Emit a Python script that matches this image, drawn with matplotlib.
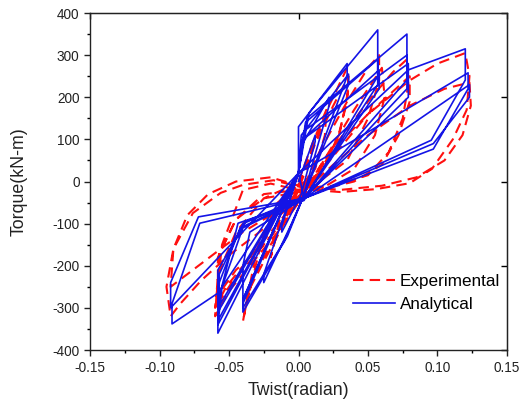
import matplotlib
matplotlib.use("Agg")
import matplotlib.pyplot as plt
from matplotlib.ticker import MultipleLocator

plt.rcParams['font.family'] = ['Liberation Sans', 'DejaVu Sans']
plt.rcParams['axes.unicode_minus'] = False

# ---- Experimental (red dashed), continuous path of twist (rad) and torque (kN-m)
exp_twist = [
    0.0, 0.01, 0.02, 0.019, 0.012, 0.0, -0.012, -0.02, -0.016, -0.006, 0.0,
    0.01, 0.022, 0.035, 0.036, 0.03, 0.018, 0.005, -0.01, -0.025, -0.038, -0.033, -0.02, -0.008, 0.0,
    0.012, 0.025, 0.036, 0.035, 0.028, 0.015, 0.0, -0.015, -0.03, -0.04, -0.036, -0.025, -0.012, 0.0,
    0.015, 0.035, 0.05, 0.058, 0.058, 0.05, 0.035, 0.015, -0.005, -0.025, -0.045, -0.058, -0.06, -0.05, -0.035, -0.015, 0.0,
    0.02, 0.04, 0.06, 0.062, 0.055, 0.04, 0.02, 0.0, -0.025, -0.045, -0.058, -0.058, -0.048, -0.03, -0.01, 0.005,
    0.025, 0.05, 0.068, 0.078, 0.079, 0.075, 0.065, 0.05, 0.025, 0.0, -0.02, -0.04, -0.055, -0.06, -0.052, -0.035, -0.015, 0.0,
    0.025, 0.05, 0.07, 0.08, 0.08, 0.072, 0.06, 0.04, 0.015, 0.0, -0.025, -0.045, -0.057, -0.058, -0.045, -0.025, -0.005, 0.005,
    0.02, 0.05, 0.08, 0.1, 0.12, 0.123, 0.121, 0.111, 0.096, 0.08, 0.056, 0.03, 0.01, -0.018, -0.04, -0.056, -0.076, -0.09, -0.095, -0.092, -0.085, -0.07, -0.05, -0.03, -0.01, 0.0,
    0.025, 0.05, 0.08, 0.105, 0.123, 0.124, 0.118, 0.105, 0.085, 0.06, 0.03, 0.0, -0.02, -0.045, -0.065, -0.08, -0.09, -0.092, -0.08, -0.06, -0.04, -0.02, 0.0,
]
exp_torque = [
    0, 90, 170, 110, 30, -20, -70, -180, -130, -60, -10,
    80, 180, 270, 220, 120, 30, -10, -40, -120, -300, -230, -150, -80, -20,
    90, 180, 250, 190, 100, 20, -10, -50, -160, -333, -260, -190, -110, -40,
    70, 190, 270, 300, 240, 150, 50, 0, -10, -40, -120, -220, -320, -260, -200, -120, -50,
    60, 170, 270, 200, 110, 30, -10, -20, -30, -90, -180, -290, -240, -170, -90, -30,
    80, 190, 260, 290, 230, 150, 70, 15, -10, -20, -5, -20, -150, -300, -250, -180, -100, -40,
    60, 160, 220, 250, 190, 110, 40, 0, -20, -25, -40, -90, -170, -270, -210, -150, -70, -20,
    60, 160, 240, 280, 305, 250, 170, 100, 30, -4, -18, -25, -20, 3, -8, -27, -75, -160, -250, -320, -290, -235, -175, -125, -70, -35,
    40, 110, 180, 220, 235, 180, 110, 50, 10, -10, -20, -10, 10, 0, -30, -80, -160, -250, -220, -170, -120, -80, -50,
]

# ---- Analytical (blue solid), continuous path
ana_twist = [
    0.0, 0.012, 0.012, 0.002, -0.012, -0.012, 0.0,
    0.003, 0.022, 0.022, 0.003, -0.005, -0.025, -0.025, 0.0,
    0.0, 0.035, 0.035, 0.003, -0.008, -0.04, -0.04, 0.0,
    0.002, 0.036, 0.036, 0.003, -0.01, -0.04, -0.04, 0.0,
    0.0076, 0.057, 0.057, 0.004, -0.0435, -0.056, -0.058, -0.058, 0.0,
    0.005, 0.057, 0.057, 0.004, -0.04, -0.055, -0.058, 0.0,
    0.003, 0.058, 0.058, 0.004, -0.035, -0.04, -0.04, 0.0,
    0.006, 0.078, 0.078, 0.004, -0.042, -0.057, -0.058, 0.0,
    0.004, 0.078, 0.078, 0.004, -0.04, -0.057, -0.058, 0.0,
    0.003, 0.079, 0.079, 0.005, -0.038, -0.058, -0.058, 0.0,
    0.079, 0.12, 0.12, 0.0955, 0.004, -0.072, -0.092, -0.092, 0.0,
    0.122, 0.122, 0.097, 0.004, -0.071, -0.091, -0.091, -0.058, 0.0,
    0.004, 0.123, 0.123, 0.097, 0.004,
]
ana_torque = [
    0, 110, 95, -30, -120, -105, 20,
    90, 200, 180, -40, -100, -240, -220, 20,
    130, 280, 250, -40, -130, -310, -290, 20,
    110, 255, 230, -40, -140, -300, -280, 20,
    163, 360, 250, -45, -99, -260, -300, -360, 20,
    140, 290, 230, -40, -110, -250, -340, 20,
    100, 265, 220, -40, -120, -200, -280, 20,
    150, 350, 241, -40, -110, -240, -330, 20,
    120, 300, 220, -40, -100, -220, -310, 20,
    100, 280, 200, -35, -95, -210, -300, 20,
    265, 315, 241, 98, -40, -84, -240, -300, 20,
    258, 220, 77, -40, -99, -290, -338, -265, 20,
    -40, 230, 200, 90, -40,
]

fig = plt.figure(figsize=(5.31, 4.03), dpi=100)
ax = fig.add_axes([0.1695, 0.1315, 0.7853, 0.8362])

ax.plot(exp_twist, exp_torque, color='#ff1010', lw=1.5, ls=(0, (5, 3)), label='Experimental', zorder=2)
ax.plot(ana_twist, ana_torque, color='#1414e6', lw=1.2, label='Analytical', zorder=3)

ax.set_xlim(-0.15, 0.15)
ax.set_ylim(-400, 400)
ax.xaxis.set_major_locator(MultipleLocator(0.05))
ax.xaxis.set_minor_locator(MultipleLocator(0.025))
ax.yaxis.set_major_locator(MultipleLocator(100))
ax.yaxis.set_minor_locator(MultipleLocator(50))
ax.set_xticks(ax.get_xticks())
ax.set_xticklabels([f"{v:.2f}" for v in ax.get_xticks()])
ax.set_xlim(-0.15, 0.15)
ax.tick_params(axis='both', which='major', direction='out', length=4, width=1, labelsize=9.8,
               colors='#222222', top=False, right=False)
ax.tick_params(axis='x', which='major', pad=4)
ax.tick_params(axis='both', which='minor', direction='out', length=2.5, width=1, top=False, right=False)

# top / right inward ticks as in the original software style
axt = ax.secondary_xaxis('top')
axt.set_xticks([-0.15, 0.0, 0.15])
axt.tick_params(direction='in', length=4, width=1)
axt.set_xticklabels([])
axr = ax.secondary_yaxis('right')
axr.set_yticks([-400, -200, 0, 200, 400])
axr.tick_params(direction='in', length=4, width=1)
axr.set_yticklabels([])

for s in ax.spines.values():
    s.set_linewidth(1.0)
    s.set_color('#222222')

ax.set_xlabel('Twist(radian)', fontsize=12.8, color='#222222', labelpad=5)
ax.set_ylabel('Torque(kN-m)', fontsize=12.8, color='#222222', labelpad=18)

leg = ax.legend(loc='upper left', bbox_to_anchor=(0.631, 0.227), frameon=False, fontsize=12.3,
                handlelength=2.45, handletextpad=0.3, labelspacing=0.5,
                borderpad=0, borderaxespad=0)

fig.savefig('out.png', dpi=100)
